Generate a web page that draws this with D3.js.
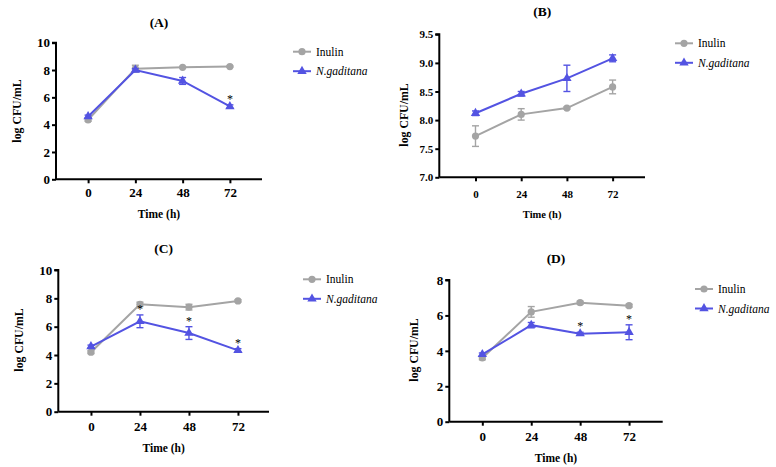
<!DOCTYPE html>
<html>
<head>
<meta charset="utf-8">
<script src="https://cdn.jsdelivr.net/npm/d3@7"></script>
<style>
  body { margin: 0; background: #fff; }
  svg text { font-family: "Liberation Serif", "DejaVu Serif", serif !important; }
</style>
</head>
<body>
<div id="chart"></div>
<script>
const hours = [0, 24, 48, 72];
const seriesNames = ["Inulin", "N.gaditana"];

// panel A
const inulinA = [4.35, 8.1, 8.2, 8.25];
const inulinAErr = [0.1, 0.25, 0.05, 0.05];
const gaditanaA = [4.6, 8.0, 7.2, 5.33];
const gaditanaAErr = [0.1, 0.1, 0.25, 0.12];
const sigA = [false, false, false, true];

// panel B
const inulinB = [7.72, 8.1, 8.21, 8.58];
const inulinBErr = [0.18, 0.1, 0.02, 0.12];
const gaditanaB = [8.12, 8.46, 8.73, 9.08];
const gaditanaBErr = [0.04, 0.04, 0.23, 0.06];
const sigB = [false, false, false, false];

// panel C
const inulinC = [4.2, 7.58, 7.38, 7.82];
const inulinCErr = [0.1, 0.15, 0.2, 0.08];
const gaditanaC = [4.6, 6.38, 5.55, 4.33];
const gaditanaCErr = [0.1, 0.45, 0.45, 0.12];
const sigC = [false, true, true, true];

// panel D
const inulinD = [3.6, 6.2, 6.72, 6.55];
const inulinDErr = [0.1, 0.3, 0.08, 0.08];
const gaditanaD = [3.8, 5.45, 4.97, 5.05];
const gaditanaDErr = [0.08, 0.15, 0.08, 0.42];
const sigD = [false, false, true, true];

const yTicksA = [0, 2, 4, 6, 8, 10];
const yTicksB = [7.0, 7.5, 8.0, 8.5, 9.0, 9.5];
const yTicksC = [0, 2, 4, 6, 8, 10];
const yTicksD = [0, 2, 4, 6, 8];

const gray = "#a4a4a4";
const blue = "#5353e2";
const serif = "'Liberation Serif', serif";

const svg = d3.select("#chart").append("svg")
  .attr("width", 776).attr("height", 467)
  .attr("font-family", serif);

const panels = [
  { title: "(A)", inulin: inulinA, inulinErr: inulinAErr, gad: gaditanaA, gadErr: gaditanaAErr, sig: sigA,
    yTicks: yTicksA, yDomain: [0, 10], fmt: d3.format("d"), tickFs: 13, labFs: 11.5,
    left: 56, right: 262, top: 42.7, bottom: 179.3, xDomain: [-16.3, 88.3],
    titleY: 26.5, tickY: 197, xLabY: 217.5, yLabX: 17, yLabY: 111,
    legX: 293, legY: 51.7 },
  { title: "(B)", inulin: inulinB, inulinErr: inulinBErr, gad: gaditanaB, gadErr: gaditanaBErr, sig: sigB,
    yTicks: yTicksB, yDomain: [7, 9.5], fmt: d3.format(".1f"), tickFs: 11, labFs: 10.5,
    left: 439.3, right: 645, top: 34.3, bottom: 177.3, xDomain: [-19, 89],
    titleY: 16, tickY: 198, xLabY: 218, yLabX: 404, yLabY: 115,
    legX: 675, legY: 43.3 },
  { title: "(C)", inulin: inulinC, inulinErr: inulinCErr, gad: gaditanaC, gadErr: gaditanaCErr, sig: sigC,
    yTicks: yTicksC, yDomain: [0, 10], fmt: d3.format("d"), tickFs: 13, labFs: 11.5,
    left: 58.3, right: 269, top: 270, bottom: 411.7, xDomain: [-16, 87.2],
    titleY: 252.5, tickY: 431, xLabY: 452, yLabX: 19, yLabY: 340,
    legX: 303, legY: 279.3 },
  { title: "(D)", inulin: inulinD, inulinErr: inulinDErr, gad: gaditanaD, gadErr: gaditanaDErr, sig: sigD,
    yTicks: yTicksD, yDomain: [0, 8], fmt: d3.format("d"), tickFs: 13, labFs: 11.5,
    left: 449.3, right: 662.7, top: 280, bottom: 421.7, xDomain: [-16.2, 88.5],
    titleY: 263, tickY: 441, xLabY: 462, yLabX: 414, yLabY: 350,
    legX: 695, legY: 289 }
];

const triangle = d3.symbol().type(d3.symbolTriangle).size(38);

panels.forEach((p) => {
  const x = d3.scaleLinear().domain(p.xDomain).range([p.left, p.right]);
  const y = d3.scaleLinear().domain(p.yDomain).range([p.bottom, p.top]);
  const g = svg.append("g");

  // axes
  const yAxis = g.append("g")
    .attr("transform", `translate(${p.left},0)`)
    .call(d3.axisLeft(y).tickValues(p.yTicks).tickFormat(p.fmt).tickSize(4).tickPadding(2));
  const xAxis = g.append("g")
    .attr("transform", `translate(0,${p.bottom})`)
    .call(d3.axisBottom(x).tickValues(hours).tickSize(4).tickPadding(6));
  [yAxis, xAxis].forEach((a) => {
    a.attr("font-family", serif).attr("font-size", p.tickFs);
    a.select(".domain").attr("stroke", "#000").attr("stroke-width", 2).attr("d",
      a === yAxis ? `M-4,${p.top}H0V${p.bottom}` : `M${p.left},0H${p.right}`);
    a.selectAll(".tick line").attr("stroke", "#000").attr("stroke-width", 2);
    a.selectAll("text").attr("fill", "#000").style("font-size", p.tickFs + "px")
      .style("font-weight", "bold");
  });
  xAxis.selectAll(".tick text").attr("dy", null).attr("y", p.tickY - p.bottom);

  // titles
  g.append("text").attr("x", (p.left + p.right) / 2).attr("y", p.titleY)
    .attr("text-anchor", "middle").style("font-size", "13.5px").style("font-weight", "bold")
    .text(p.title);
  g.append("text").attr("x", (p.left + p.right) / 2).attr("y", p.xLabY)
    .attr("text-anchor", "middle").style("font-size", p.labFs + "px").style("font-weight", "bold")
    .text("Time (h)");
  g.append("text").attr("transform", `translate(${p.yLabX},${p.yLabY}) rotate(-90)`)
    .attr("text-anchor", "middle").attr("dy", "0.35em")
    .style("font-size", "11.8px").style("font-weight", "bold")
    .text("log CFU/mL");

  const line = d3.line().x((d) => x(d.h)).y((d) => y(d.v));
  const sets = [
    { vals: p.inulin, errs: p.inulinErr, color: gray, shape: "circle" },
    { vals: p.gad, errs: p.gadErr, color: blue, shape: "triangle" }
  ];

  sets.forEach((s) => {
    const pts = hours.map((h, i) => ({ h, v: s.vals[i], e: s.errs[i] }));
    g.append("path").datum(pts).attr("d", line)
      .attr("fill", "none").attr("stroke", s.color).attr("stroke-width", 2);
    const eb = g.append("g").attr("stroke", s.color).attr("stroke-width", 1.4);
    pts.forEach((d) => {
      const yt = y(d.v + d.e), yb = y(d.v - d.e), cx = x(d.h);
      eb.append("line").attr("x1", cx).attr("x2", cx).attr("y1", yt).attr("y2", yb);
      eb.append("line").attr("x1", cx - 3.5).attr("x2", cx + 3.5).attr("y1", yt).attr("y2", yt);
      eb.append("line").attr("x1", cx - 3.5).attr("x2", cx + 3.5).attr("y1", yb).attr("y2", yb);
    });
    if (s.shape === "circle") {
      g.selectAll(null).data(pts).enter().append("circle")
        .attr("cx", (d) => x(d.h)).attr("cy", (d) => y(d.v)).attr("r", 3.6)
        .attr("fill", s.color);
    } else {
      g.selectAll(null).data(pts).enter().append("path")
        .attr("d", triangle)
        .attr("transform", (d) => `translate(${x(d.h)},${y(d.v)})`)
        .attr("fill", s.color);
    }
  });

  // significance marks
  hours.forEach((h, i) => {
    if (!p.sig[i]) return;
    g.append("text").attr("x", x(h)).attr("y", y(p.gad[i] + p.gadErr[i]) - 2)
      .attr("text-anchor", "middle").style("font-size", "12px").text("*");
  });

  // legend
  sets.forEach((s, i) => {
    const ly = p.legY + i * 19.5;
    g.append("line").attr("x1", p.legX).attr("x2", p.legX + 18)
      .attr("y1", ly).attr("y2", ly).attr("stroke", s.color).attr("stroke-width", 2);
    if (s.shape === "circle") {
      g.append("circle").attr("cx", p.legX + 9).attr("cy", ly).attr("r", 3.6).attr("fill", s.color);
    } else {
      g.append("path").attr("d", triangle).attr("transform", `translate(${p.legX + 9},${ly})`)
        .attr("fill", s.color);
    }
    g.append("text").attr("x", p.legX + 23).attr("y", ly).attr("dy", "0.35em")
      .style("font-size", "11.5px").style("font-style", i === 1 ? "italic" : "normal")
      .text(seriesNames[i]);
  });
});
</script>
</body>
</html>
